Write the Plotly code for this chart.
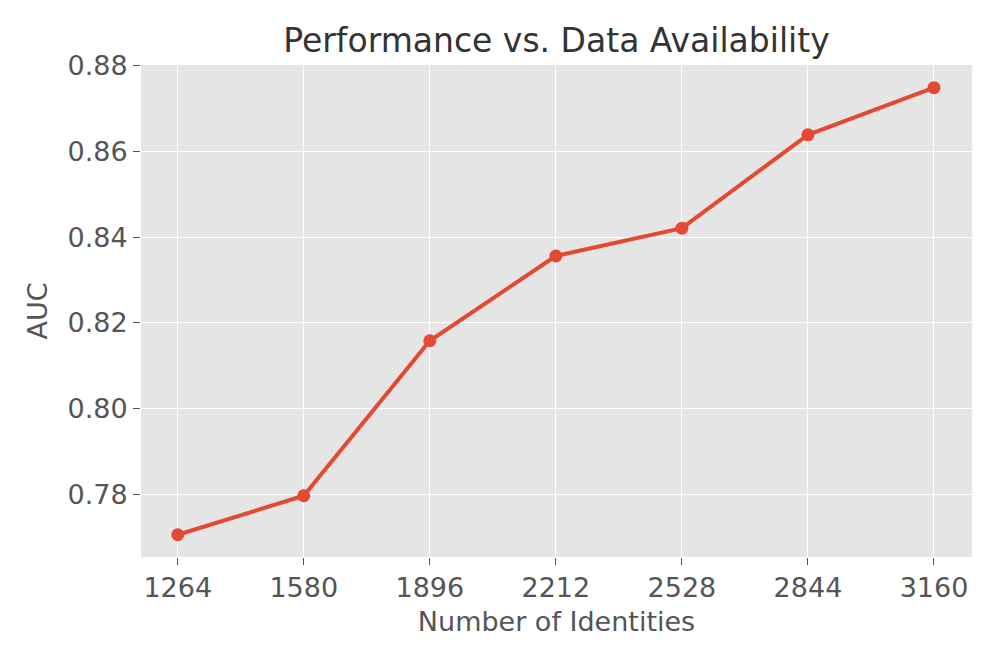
import plotly.graph_objects as go

identities = [1264, 1580, 1896, 2212, 2528, 2844, 3160]
auc = [0.7705, 0.7796, 0.8158, 0.8356, 0.8421, 0.8639, 0.8749]
x_ticks = [1264, 1580, 1896, 2212, 2528, 2844, 3160]
y_ticks = [0.78, 0.80, 0.82, 0.84, 0.86, 0.88]

W, H = 989, 656
fig = go.Figure()
fig.add_trace(go.Scatter(
    x=identities, y=auc, mode="lines+markers",
    line=dict(color="#E24A33", width=4),
    marker=dict(color="#E24A33", size=13),
    showlegend=False,
))

font = "DejaVu Sans"
fig.update_layout(
    width=W, height=H,
    paper_bgcolor="white", plot_bgcolor="#E5E5E5",
    margin=dict(l=133, r=25, t=57, b=107),
    title=dict(text="Performance vs. Data Availability", x=((141 + 972) / 2 - 8) / W, xanchor="center",
               y=1 - 32 / H, yanchor="middle",
               font=dict(family=font, size=33, color="#333333")),
    xaxis=dict(
        range=[1171.9, 3255.3], tickvals=x_ticks, ticktext=[str(v) for v in x_ticks],
        showgrid=True, gridcolor="white", gridwidth=1.3, zeroline=False,
        ticks="outside", ticklen=7, tickcolor="#555555", tickwidth=1.3,
        tickfont=dict(family=font, size=27, color="#555555"),
        title=dict(text="Number of Identities", standoff=9,
                   font=dict(family=font, size=27, color="#555555")),
        showline=False,
    ),
    yaxis=dict(
        range=[0.7653, 0.8802], tickvals=y_ticks, ticktext=[f"{v:.2f}" for v in y_ticks],
        showgrid=True, gridcolor="white", gridwidth=1.3, zeroline=False,
        ticks="outside", ticklen=7, tickcolor="#555555", tickwidth=1.3,
        tickfont=dict(family=font, size=27, color="#555555"),
        title=dict(text="AUC", standoff=12,
                   font=dict(family=font, size=27, color="#555555")),
        showline=False,
    ),
)

fig.write_html("out.html")
